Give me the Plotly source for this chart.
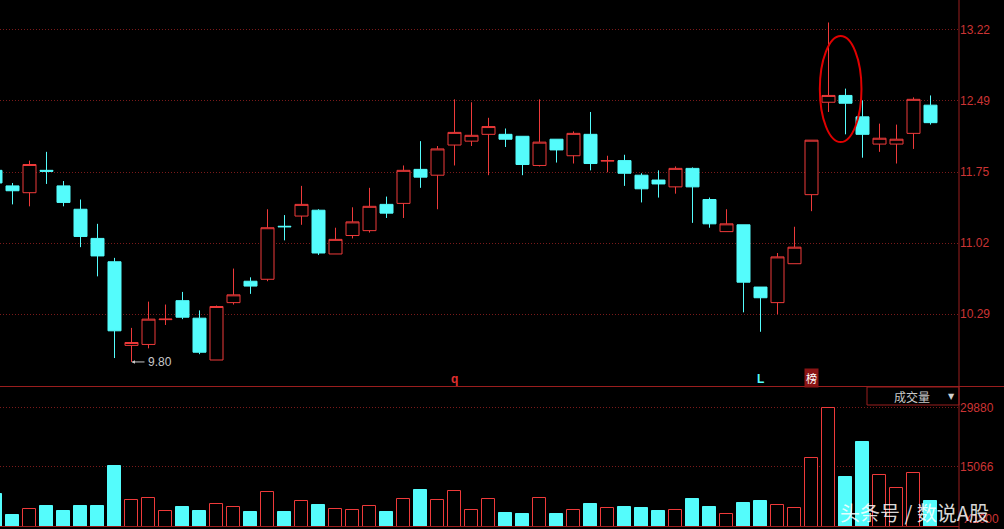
import plotly.graph_objects as go

# ---- data (day index, OHLC, volume) ----
day = list(range(-1, 55))
opens = [11.77, 11.61, 11.54, 11.77, 11.61, 11.37, 11.07, 10.83, 9.97, 9.98,
         10.235, 10.43, 10.25, 9.82, 10.41, 10.63, 10.65, 11.195, 11.30, 11.36,
         10.91, 11.10, 11.15, 11.42, 11.43, 11.78, 11.72, 12.03, 12.07, 12.14,
         12.14, 12.12, 11.82, 12.09, 11.92, 12.14, 11.865, 11.87, 11.72, 11.67,
         11.60, 11.79, 11.47, 11.14, 11.21, 10.57, 10.41, 10.81, 11.52, 12.47,
         12.54, 12.32, 12.04, 12.04, 12.15, 12.44]
highs = [11.79, 11.64, 11.87, 11.96, 11.66, 11.47, 11.22, 10.87, 10.15, 10.42,
         10.39, 10.52, 10.33, 10.38, 10.76, 10.67, 11.37, 11.31, 11.61, 11.37,
         11.18, 11.39, 11.59, 11.50, 11.82, 12.07, 12.02, 12.50, 12.47, 12.31,
         12.20, 12.12, 12.50, 12.09, 12.17, 12.37, 11.92, 11.93, 11.74, 11.77,
         11.81, 11.80, 11.49, 11.37, 11.21, 10.57, 10.92, 11.19, 12.08, 13.29,
         12.61, 12.49, 12.25, 12.24, 12.52, 12.54]
lows = [11.60, 11.42, 11.40, 11.63, 11.40, 10.98, 10.68, 9.84, 9.80, 9.94,
        10.18, 10.24, 9.88, 9.82, 10.39, 10.50, 10.63, 11.05, 11.21, 10.90,
        10.91, 11.07, 11.13, 11.28, 11.28, 11.59, 11.37, 11.82, 12.02, 11.72,
        12.01, 11.72, 11.81, 11.85, 11.84, 11.77, 11.75, 11.61, 11.44, 11.49,
        11.53, 11.23, 11.18, 11.14, 10.31, 10.11, 10.29, 10.81, 11.35, 12.37,
        12.14, 11.90, 11.96, 11.84, 11.99, 12.24]
closes = [11.64, 11.56, 11.83, 11.76, 11.44, 11.09, 10.89, 10.12, 10.00, 10.24,
          10.24, 10.26, 9.90, 10.37, 10.49, 10.58, 11.18, 11.19, 11.42, 10.92,
          11.06, 11.24, 11.40, 11.33, 11.77, 11.70, 11.99, 12.16, 12.13, 12.22,
          12.09, 11.83, 12.06, 11.98, 12.15, 11.84, 11.87, 11.74, 11.58, 11.63,
          11.79, 11.60, 11.22, 11.22, 10.62, 10.46, 10.88, 10.98, 12.08, 12.54,
          12.46, 12.14, 12.10, 12.09, 12.50, 12.26]
volumes = [8211, 2938, 4369, 5198, 3942, 5198, 5198, 15242, 6629, 7131,
           3867, 4947, 3942, 5625, 4871, 3691, 8638, 3691, 6378, 5449,
           4369, 4118, 5122, 3691, 6880, 9215, 6629, 8889, 4118, 6880,
           3440, 3189, 7131, 3189, 4118, 5700, 4620, 4947, 4696, 3942,
           4118, 6955, 4947, 3114, 5951, 6453, 5449, 4620, 17175, 29880,
           12480, 21268, 12907, 9642, 13409, 6453]

price_ticks = [10.29, 11.02, 11.75, 12.49, 13.22]
vol_ticks = [15066, 29880]
low_label = "9.80"

CYAN = "#54fcfc"
RED = "#ee3a3a"
GRID = "#7a1a1a"
AXRED = "#cc3434"
LINE = "#9a1e1e"

W, H = 1004, 529
x_right = 959 / W
price_dom = [1 - 386 / H, 1.0]
vol_dom = [2.3 / H, 1 - 387 / H]

fig = go.Figure()

fig.add_trace(go.Candlestick(
    x=day, open=opens, high=highs, low=lows, close=closes,
    increasing=dict(line=dict(color=RED, width=1), fillcolor="#000000"),
    decreasing=dict(line=dict(color=CYAN, width=1), fillcolor=CYAN),
    whiskerwidth=0, xaxis="x", yaxis="y", showlegend=False, hoverinfo="skip",
))

up = [c >= o for o, c in zip(opens, closes)]
fig.add_trace(go.Bar(
    x=day, y=volumes, width=0.76,
    marker=dict(color=["#000000" if u else CYAN for u in up],
                line=dict(color=[RED if u else CYAN for u in up], width=1)),
    xaxis="x2", yaxis="y2", showlegend=False, hoverinfo="skip",
))

xr = [-12.5 / 17, (959 - 12.5) / 17]
fig.update_layout(
    width=W, height=H,
    margin=dict(l=0, r=0, t=0, b=0),
    paper_bgcolor="#000000", plot_bgcolor="#000000",
    boxgap=0.235, boxgroupgap=0,
    bargap=0,
    xaxis=dict(domain=[0, x_right], range=xr, showgrid=False, zeroline=False,
               showticklabels=False, rangeslider=dict(visible=False), anchor="y"),
    xaxis2=dict(domain=[0, x_right], range=xr, showgrid=False, zeroline=False,
                showticklabels=False, anchor="y2", matches="x"),
    yaxis=dict(domain=price_dom, range=[9.5527, 13.5212], side="right", anchor="x",
               tickvals=price_ticks, ticktext=[f"{v:.2f}" for v in price_ticks],
               showgrid=True, gridcolor=GRID, griddash="1px,2px", gridwidth=1,
               zeroline=False, ticks="", tickfont=dict(color=AXRED, size=12,
               family="Liberation Sans, Arial")),
    yaxis2=dict(domain=vol_dom, range=[0, 35079], side="right", anchor="x2",
                tickvals=vol_ticks, ticktext=[str(v) for v in vol_ticks],
                showgrid=True, gridcolor=GRID, griddash="1px,2px", gridwidth=1,
                zeroline=False, ticks="", tickfont=dict(color=AXRED, size=12,
                family="Liberation Sans, Arial")),
)

# frame lines
fig.add_shape(type="line", xref="paper", yref="paper", x0=x_right, x1=x_right, y0=0, y1=1,
              line=dict(color=LINE, width=1))
fig.add_shape(type="line", xref="paper", yref="paper", x0=0, x1=1, y0=1 - 386.5 / H, y1=1 - 386.5 / H,
              line=dict(color=LINE, width=1))
fig.add_shape(type="line", xref="paper", yref="paper", x0=0, x1=x_right, y0=1 - 526.5 / H, y1=1 - 526.5 / H,
              line=dict(color=LINE, width=1))
# volume selector box
fig.add_shape(type="rect", xref="paper", yref="paper", x0=867 / W, x1=x_right,
              y0=1 - 405 / H, y1=1 - 387 / H, line=dict(color=LINE, width=1))
# highlight ellipse
fig.add_shape(type="circle", xref="x", yref="y", x0=47.49, x1=49.94, y0=12.061, y1=13.151,
              line=dict(color="#e00000", width=2))

ann_font = "Liberation Sans, Arial"
# lowest-price marker with arrow
fig.add_annotation(x=7, y=lows[8], xref="x", yref="y", text=low_label, showarrow=True,
                   ax=14, ay=0, xanchor="left", yanchor="middle",
                   arrowhead=2, arrowsize=0.7, arrowwidth=1, arrowcolor="#c8c8c8",
                   standoff=0, startstandoff=1,
                   font=dict(color="#c8c8c8", size=12, family=ann_font))


def paper_text(px, py, text, color, size, family=ann_font, **kw):
    fig.add_annotation(x=px / W, y=1 - py / H, xref="paper", yref="paper", text=text,
                       showarrow=False, xanchor=kw.pop("xanchor", "center"), yanchor="middle",
                       font=dict(color=color, size=size, family=family), **kw)


def marker_text(day_i, py, text, color, size, family=ann_font, **kw):
    fig.add_annotation(x=day_i, y=1 - py / H, xref="x", yref="paper", text=text,
                       showarrow=False, xanchor="center", yanchor="middle",
                       font=dict(color=color, size=size, family=family), **kw)


marker_text(26, 379, "<b>q</b>", "#e03030", 12)
marker_text(44, 378.5, "<b>L</b>", CYAN, 12)
marker_text(47, 378, "榜", "#ffffff", 11, family="Noto Sans CJK SC", bgcolor="#8a1414", borderpad=1)
paper_text(912, 396, "成交量", "#c8c8c8", 12, family="Noto Sans CJK SC")
paper_text(951, 396, "▼", "#d0d0d0", 8, family="DejaVu Sans")
paper_text(962, 519, "X1000", AXRED, 12, xanchor="left")
paper_text(914, 512, "头条号 / 数说A股", "rgba(255,255,255,0.85)", 20, family="Noto Sans CJK SC")

fig.write_html("out.html", config={"displayModeBar": False},
               post_script="document.body.style.margin='0';document.body.style.overflow='hidden';")
